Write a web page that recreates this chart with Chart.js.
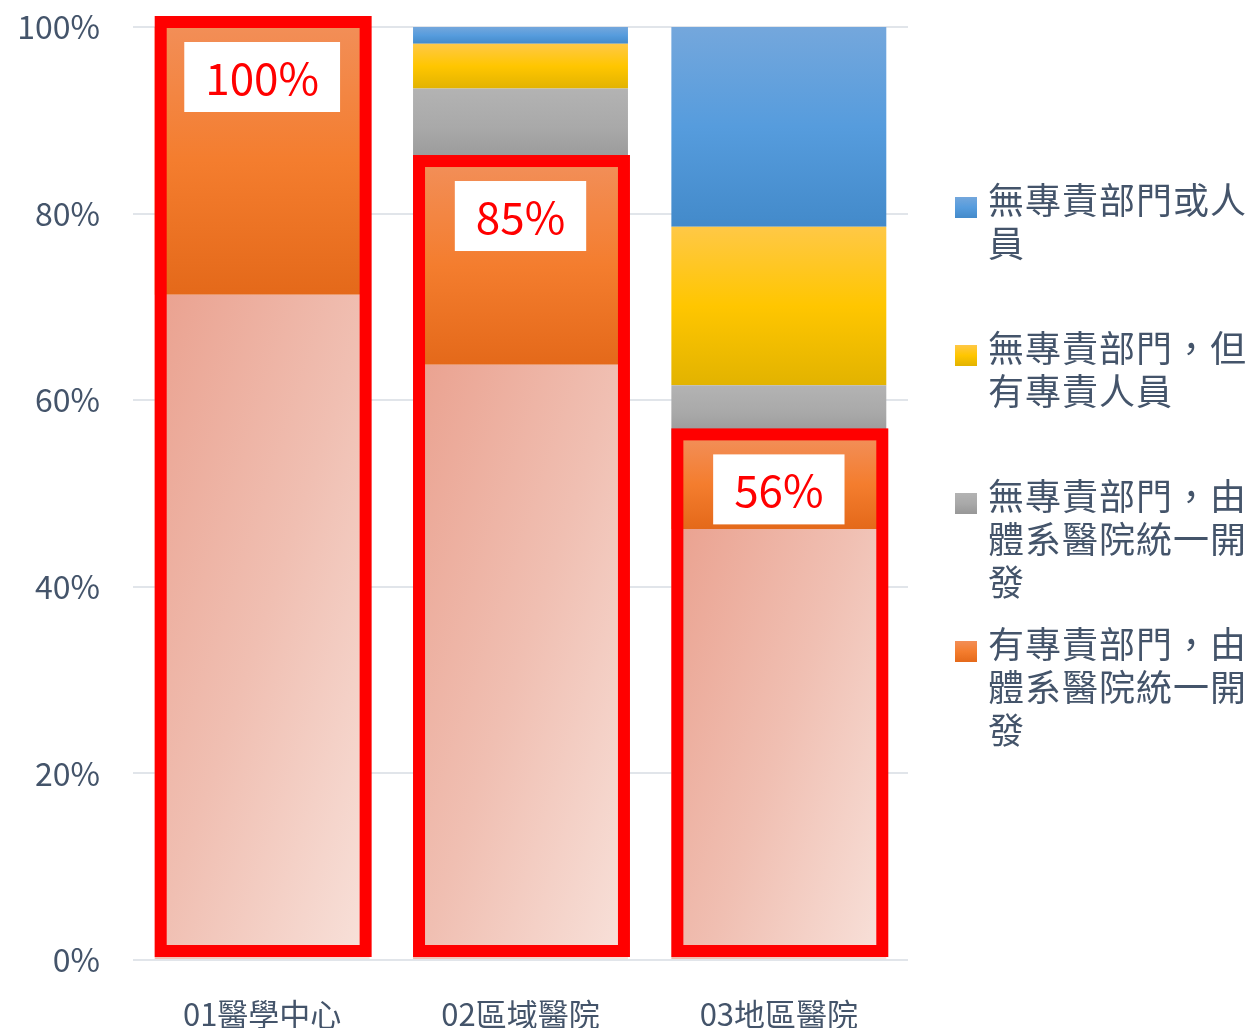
<!DOCTYPE html>
<html><head><meta charset="utf-8">
<script src="https://cdn.jsdelivr.net/npm/chart.js@4/dist/chart.umd.min.js"></script>
<style>
html,body{margin:0;padding:0;background:#fff;}
#wrap{position:relative;width:1251px;height:1028px;overflow:hidden;}
#legend{position:absolute;left:955px;top:0;width:296px;font-family:"Noto Sans CJK TC","Noto Sans CJK SC",sans-serif;color:#44546A;}
.item{position:absolute;left:0;width:296px;}
.sw{position:absolute;left:0;width:22px;height:21px;}
.tx{position:absolute;left:33px;width:264px;font-size:36px;letter-spacing:1px;line-height:43px;word-break:break-all;}
</style>
</head><body>
<div id="wrap"><canvas id="c" width="1251" height="1028"></canvas><div id="legend"></div></div>
<script>
const categories = ['01醫學中心','02區域醫院','03地區醫院'];
const seriesNames = ['有專責部門，自行開發','有專責部門，由體系醫院統一開發','無專責部門，由體系醫院統一開發','無專責部門，但有專責人員','無專責部門或人員'];
const selfDev      = [71.3, 63.8, 46.2];
const deptGroup    = [28.7, 21.3, 9.6];
const noDeptGroup  = [0, 8.3, 5.8];
const noDeptStaff  = [0, 4.8, 17.0];
const noDeptNone   = [0, 1.8, 21.4];
const highlightLabels = ['100%','85%','56%'];
const yTicks = [0,20,40,60,80,100];

const series = [selfDev, deptGroup, noDeptGroup, noDeptStaff, noDeptNone];
const stopsList = [
  null,
  [[0,'#F28E57'],[0.5,'#F47D2E'],[1,'#E4691A']],
  [[0,'#B3B3B3'],[0.5,'#A9A9A9'],[1,'#979797']],
  [[0,'#FFC846'],[0.5,'#FFC600'],[1,'#E2B300']],
  [[0,'#74A7DC'],[0.5,'#569CDD'],[1,'#438ACA']]
];
const BAR_PCT = 0.832;
const ok = (...v) => v.every(n => typeof n === 'number' && isFinite(n));

function segRange(chart, di, i){
  const ys = chart.scales.y;
  let start = 0; for (let k=0;k<di;k++) start += series[k][i];
  const end = start + series[di][i];
  return [ys.getPixelForValue(end), ys.getPixelForValue(start)];
}
function vGrad(di){
  const stops = stopsList[di];
  return function(ctx){
    const chart = ctx.chart;
    if (ctx.type !== 'data' || !chart.scales || !chart.scales.y) return stops[1][1];
    const [y0,y1] = segRange(chart, ctx.datasetIndex, ctx.dataIndex);
    if (!ok(y0,y1) || y1 - y0 < 1) return stops[1][1];
    const g = chart.ctx.createLinearGradient(0,y0,0,y1);
    stops.forEach(s=>g.addColorStop(s[0],s[1]));
    return g;
  };
}
function pinkGrad(ctx){
  const chart = ctx.chart;
  if (ctx.type !== 'data' || !chart.scales || !chart.scales.y || !chart.scales.x) return '#EFB9AB';
  const xs = chart.scales.x;
  const [y0,y1] = segRange(chart, ctx.datasetIndex, ctx.dataIndex);
  const half = xs.width / categories.length * BAR_PCT / 2;
  const xc = xs.getPixelForValue(ctx.dataIndex);
  if (!ok(y0,y1,half,xc) || y1 - y0 < 1) return '#EFB9AB';
  const xL = xc - half, xR = xc + half;
  const dx = 0.949, dy = 0.316;
  const L = (xR-xL)*dx + (y1-y0)*dy;
  const g = chart.ctx.createLinearGradient(xL, y0, xL + dx*L, y0 + dy*L);
  g.addColorStop(0,'#EAA18F');
  g.addColorStop(0.5,'#F0BFB2');
  g.addColorStop(1,'#F8E2DB');
  return g;
}

const datasets = series.map((d,di)=>({
  label: seriesNames[di],
  data: d,
  backgroundColor: di===0 ? pinkGrad : vGrad(di),
  borderWidth: 0,
  barPercentage: BAR_PCT,
  categoryPercentage: 1
}));

const highlightPlugin = {
  id:'highlight',
  afterDatasetsDraw(chart){
    const c = chart.ctx, xs = chart.scales.x, ys = chart.scales.y;
    const half = xs.width / categories.length * BAR_PCT / 2;
    c.save();
    highlightLabels.forEach((lab,i)=>{
      const top = ys.getPixelForValue(selfDev[i] + deptGroup[i]);
      const base = ys.getPixelForValue(0);
      const xc = xs.getPixelForValue(i);
      c.strokeStyle = '#FF0000';
      c.lineWidth = 12;
      c.strokeRect(xc - half + 6, top - 5, 2*half - 10, base - 9 - (top - 5));
      c.font = '44px "Noto Sans CJK TC"';
      const tw = c.measureText(lab).width;
      const w = tw + 42, h = 70;
      const ry = top + 15;
      c.fillStyle = '#FFFFFF';
      c.fillRect(xc - w/2, ry, w, h);
      c.fillStyle = '#FF0000';
      c.textAlign = 'center';
      c.textBaseline = 'middle';
      c.fillText(lab, xc, ry + h/2 + 1);
    });
    c.restore();
  }
};

new Chart(document.getElementById('c'), {
  type:'bar',
  data:{labels:categories, datasets},
  options:{
    responsive:false,
    animation:false,
    layout:{padding:{top:27,right:343,left:0,bottom:0}},
    plugins:{legend:{display:false}, tooltip:{enabled:false}},
    scales:{
      x:{
        stacked:true,
        grid:{display:false},
        border:{display:false},
        ticks:{color:'#44546A', font:{family:'"Noto Sans CJK TC"', size:31}, padding:28, maxRotation:0},
        afterFit(s){ s.height = 68; s.paddingLeft = 0; s.paddingRight = 0; }
      },
      y:{
        stacked:true, min:0, max:100,
        afterBuildTicks(s){ s.ticks = yTicks.map(v=>({value:v})); },
        grid:{color:'#E1E5EA', lineWidth:2, drawTicks:false},
        border:{display:false},
        ticks:{color:'#44546A', font:{family:'"Noto Sans CJK TC"', size:32}, padding:33, callback:v=>v+'%'},
        afterFit(s){ s.width = 133; s.paddingTop = 0; s.paddingBottom = 0; }
      }
    }
  },
  plugins:[highlightPlugin]
});

const legend = document.getElementById('legend');
[4,3,2,1].forEach((di,k)=>{
  const it = document.createElement('div');
  it.className = 'item';
  it.style.top = (177 + k*148) + 'px';
  const sw = document.createElement('div');
  sw.className = 'sw';
  sw.style.top = '20px';
  sw.style.background = 'linear-gradient(' + stopsList[di].map(s=>s[1]+' '+(s[0]*100)+'%').join(',') + ')';
  const tx = document.createElement('div');
  tx.className = 'tx';
  tx.textContent = seriesNames[di];
  it.appendChild(sw); it.appendChild(tx);
  legend.appendChild(it);
});
</script>
</body></html>
